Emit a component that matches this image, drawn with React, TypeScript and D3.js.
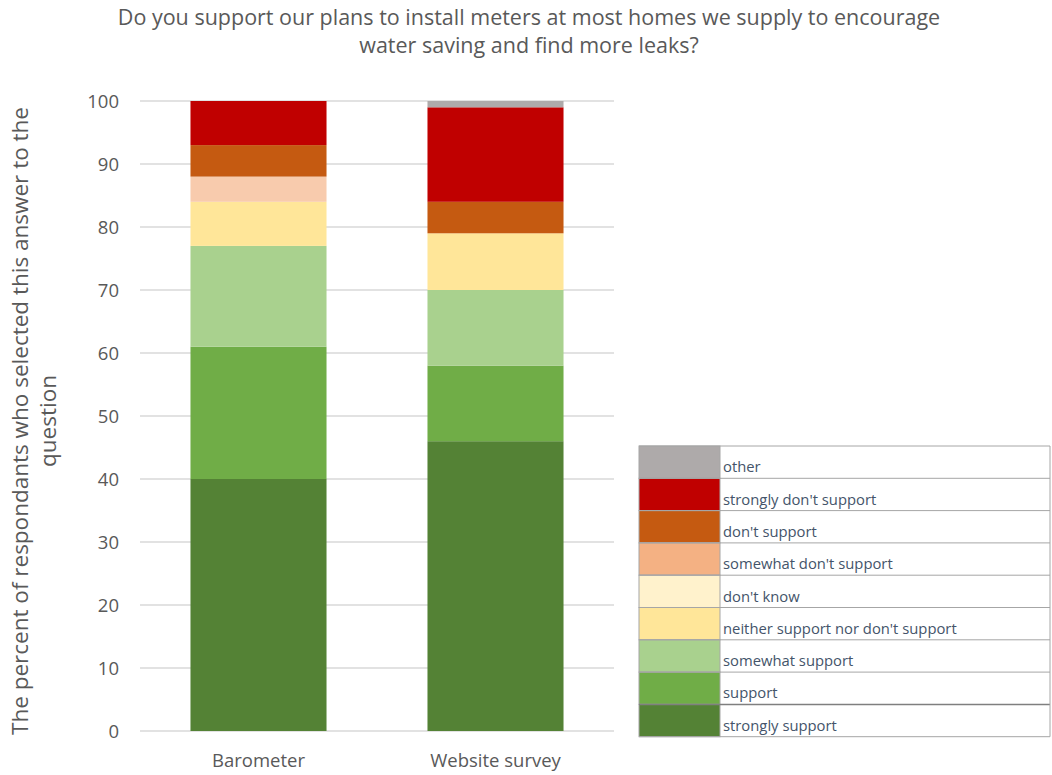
import React from "react";
import * as d3 from "d3";

const categories = ["Barometer", "Website survey"];
const seriesNames = [
  "strongly support",
  "support",
  "somewhat support",
  "neither support nor don't support",
  "don't know",
  "somewhat don't support",
  "don't support",
  "strongly don't support",
  "other",
];
const barometerValues = [40, 21, 16, 7, 0, 4, 5, 7, 0];
const websiteValues = [46, 12, 12, 9, 0, 0, 5, 15, 1];
const seriesColors = ["#548235", "#70AD47", "#A9D18E", "#FFE699", "#FFF2CC", "#F8CBAD", "#C55A11", "#C00000", "#AEAAAA"];
const legendColors = ["#548235", "#70AD47", "#A9D18E", "#FFE699", "#FFF2CC", "#F4B183", "#C55A11", "#C00000", "#AEAAAA"];
const yTicks = [0, 10, 20, 30, 40, 50, 60, 70, 80, 90, 100];
const titleLines = [
  "Do you support our plans to install meters at most homes we supply to encourage",
  "water saving and find more leaks?",
];
const yLabelLines = ["The percent of respondants who selected this answer to the", "question"];

const FONT = "'Open Sans', sans-serif";

export default function App() {
  const W = 1052, H = 775;
  const left = 140, right = 614, top = 101, bottom = 731;
  const x = d3.scaleBand().domain(categories).range([left, right]).paddingInner(0.426).paddingOuter(0.213);
  const y = d3.scaleLinear().domain([0, 100]).range([bottom, top]);

  const rows = categories.map((c, i) => {
    const vals = i === 0 ? barometerValues : websiteValues;
    const obj: any = { category: c };
    seriesNames.forEach((s, j) => (obj[s] = vals[j]));
    return obj;
  });
  const stacked = d3.stack().keys(seriesNames)(rows);

  const legX = 639, legTop = 446, legRowH = 32.3, swW = 81, legRight = 1050;
  const legendOrder = [...seriesNames].reverse();

  return (
    <svg width={W} height={H} style={{ position: "absolute", left: 0, top: 0, background: "#fff" }}>
      <rect width={W} height={H} fill="#fff" />
      {titleLines.map((t, i) => (
        <text key={i} x={529} y={25 + i * 28} textAnchor="middle" fontFamily={FONT} fontSize={21.5} fill="#595959">
          {t}
        </text>
      ))}
      {yTicks.map((t) => (
        <g key={t}>
          <line x1={left} x2={right} y1={y(t)} y2={y(t)} stroke="#D9D9D9" strokeWidth={1.3} />
          <text x={119} y={y(t) + 6.5} textAnchor="end" fontFamily={FONT} fontSize={18.5} fill="#595959">
            {t}
          </text>
        </g>
      ))}
      {stacked.map((layer, j) =>
        layer.map((d, i) =>
          d[1] - d[0] > 0 ? (
            <rect
              key={j + "-" + i}
              x={x(categories[i])}
              width={x.bandwidth()}
              y={y(d[1])}
              height={y(d[0]) - y(d[1])}
              fill={seriesColors[j]}
            />
          ) : null
        )
      )}
      {categories.map((c) => (
        <text key={c} x={(x(c) as number) + x.bandwidth() / 2} y={767} textAnchor="middle" fontFamily={FONT} fontSize={18.5} fill="#595959">
          {c}
        </text>
      ))}
      <text transform={`translate(0,421) rotate(-90)`} textAnchor="middle" fontFamily={FONT} fontSize={22.5} fill="#595959">
        {yLabelLines.map((l, i) => (
          <tspan key={i} x={0} y={28 + i * 28}>
            {l}
          </tspan>
        ))}
      </text>
      <g>
        {legendOrder.map((s, k) => {
          const j = seriesNames.indexOf(s);
          const ry = legTop + k * legRowH;
          return (
            <g key={s}>
              <rect x={legX} y={ry} width={swW} height={legRowH} fill={legendColors[j]} stroke="#A6A6A6" strokeWidth={1} />
              <line x1={legX} x2={legRight} y1={ry} y2={ry} stroke={s === "strongly support" ? "#7F7F7F" : "#A6A6A6"} strokeWidth={s === "strongly support" ? 1.5 : 1} />
              <text x={legX + swW + 3} y={ry + legRowH - 6} fontFamily={FONT} fontSize={14.8} fill="#44546A">
                {s}
              </text>
            </g>
          );
        })}
        <line x1={legX} x2={legRight} y1={legTop + 9 * legRowH} y2={legTop + 9 * legRowH} stroke="#A6A6A6" />
        <line x1={legRight} x2={legRight} y1={legTop} y2={legTop + 9 * legRowH} stroke="#A6A6A6" />
      </g>
    </svg>
  );
}
